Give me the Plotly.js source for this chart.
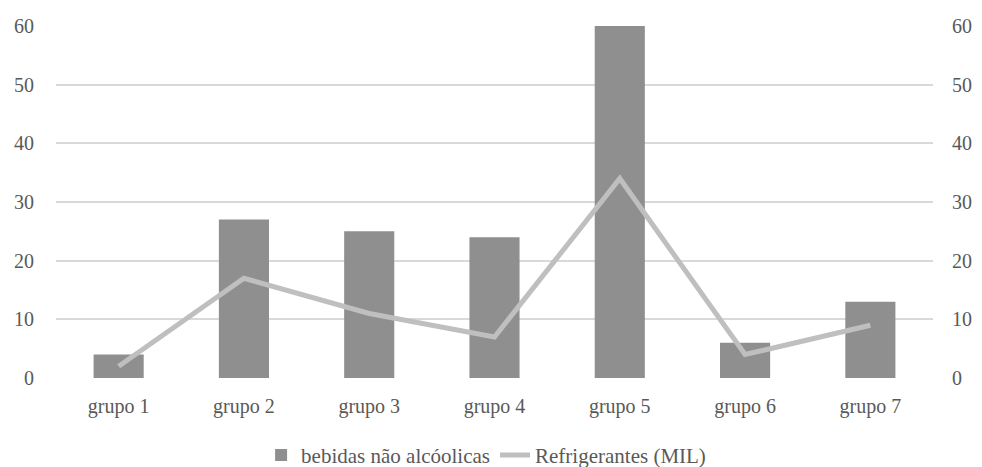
<!DOCTYPE html>
<html>
<head>
<meta charset="utf-8">
<script src="https://cdn.plot.ly/plotly-3.0.1.min.js"></script>
<style>
html,body{margin:0;padding:0;background:#fff;}
#chart{width:982px;height:467px;}
</style>
</head>
<body>
<div id="chart"></div>
<script>
const categories = ["grupo 1","grupo 2","grupo 3","grupo 4","grupo 5","grupo 6","grupo 7"];
const bebidas = [4, 27, 25, 24, 60, 6, 13];
const refrigerantes = [2, 17, 11, 7, 34, 4, 9];
const tickVals = [0, 10, 20, 30, 40, 50, 60];

function mkFont(sz) { return {family: "Liberation Serif", size: sz || 20, color: "#595959"}; }

const data = [
  {type: "bar", x: categories, y: bebidas, name: "bebidas não alcóolicas",
   marker: {color: "#8f8f8f"}, yaxis: "y"},
  {type: "scatter", mode: "lines", x: categories, y: refrigerantes, name: "Refrigerantes (MIL)",
   line: {color: "#bfbfbf", width: 5}, yaxis: "y2"}
];

const layout = {
  width: 982, height: 467,
  margin: {l: 56, r: 49, t: 26, b: 89, autoexpand: false},
  paper_bgcolor: "#fff", plot_bgcolor: "#fff",
  font: mkFont(),
  bargap: 0.6,
  showlegend: true,
  legend: {orientation: "h", x: 0.495, xanchor: "center", xref: "container", yref: "container", y: 0.025, yanchor: "middle",
           font: mkFont(21)},
  xaxis: {type: "category", showgrid: false, zeroline: false, showline: false, ticks: "", tickfont: mkFont(), ticklabelstandoff: 14, automargin: false},
  yaxis: {range: [0, 60], tickvals: tickVals, showgrid: true, gridcolor: "#d9d9d9", gridwidth: 1.5,
          zeroline: false, showline: false, ticks: "", tickfont: mkFont(), ticklabelstandoff: 21, automargin: false},
  yaxis2: {range: [0, 60], tickvals: tickVals, overlaying: "y", side: "right", showgrid: false,
           zeroline: false, showline: false, ticks: "", tickfont: mkFont(), ticklabelstandoff: 18, automargin: false}
};

Plotly.newPlot("chart", data, layout, {displayModeBar: false}).then(function (gd) {
  return Plotly.relayout(gd, {annotations: []});
});
</script>
</body>
</html>
